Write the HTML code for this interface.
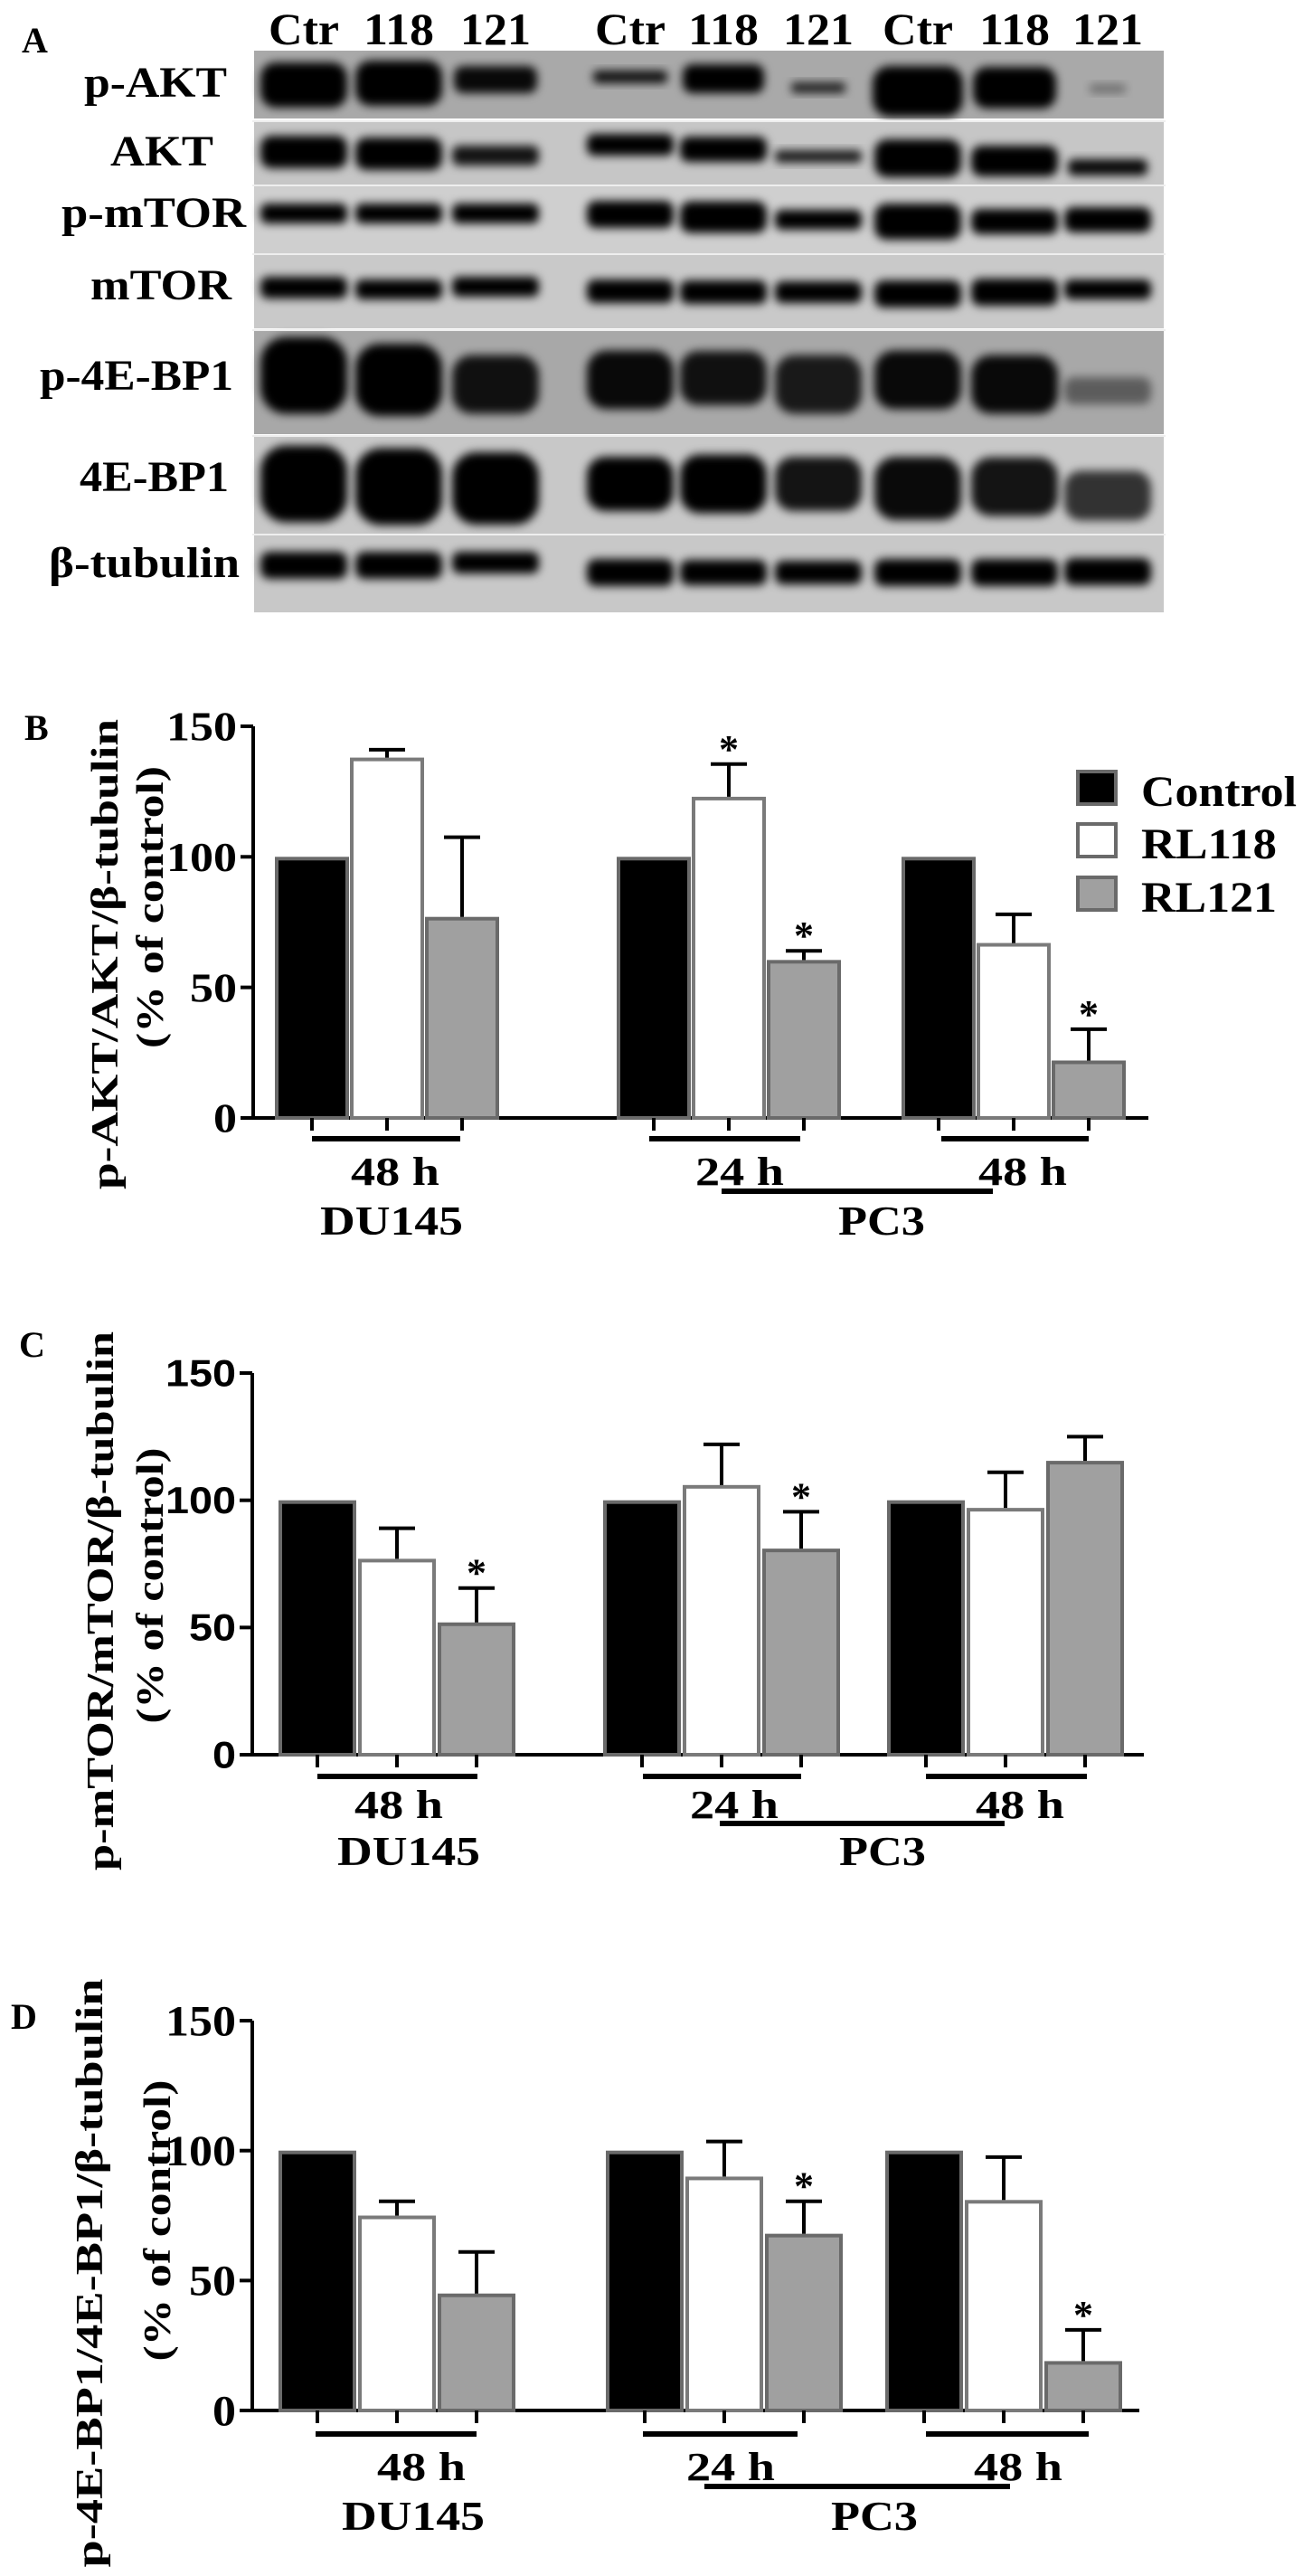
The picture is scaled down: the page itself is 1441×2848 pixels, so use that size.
<!DOCTYPE html>
<html><head><meta charset="utf-8"><style>
html,body{margin:0;padding:0;background:#fff;}
svg{display:block;}
text{font-family:"Liberation Serif",serif;font-weight:bold;fill:#000;}
.sans{font-family:"Liberation Sans",sans-serif;}
</style></head><body>
<svg id="fig" width="1441" height="2848" viewBox="0 0 1441 2848" xmlns="http://www.w3.org/2000/svg">
<defs><filter id="blur" x="-20%" y="-50%" width="140%" height="200%"><feGaussianBlur stdDeviation="5"/></filter></defs>
<g id="blot"></g>
<g id="chartB"></g>
<g id="chartC"></g>
<g id="chartD"></g>
</svg>
<script>
// ---------- chart data ----------
const groups = ["DU145 48 h","PC3 24 h","PC3 48 h"];
const series = ["Control","RL118","RL121"];
const yTicks = [0,50,100,150];
const bControl = [100,100,100];
const bRL118 = [138,123,67];
const bRL118Err = [3,12.5,11];
const bRL121 = [77,60.5,22];
const bRL121Err = [30.5,3.5,12];
const bStars118 = [false,true,false];
const bStars121 = [false,true,true];
const cControl = [100,100,100];
const cRL118 = [77,106,97];
const cRL118Err = [12,16,14];
const cRL121 = [52,81,115.5];
const cRL121Err = [13.5,14.5,9.5];
const cStars118 = [false,false,false];
const cStars121 = [true,true,false];
const dControl = [100,100,100];
const dRL118 = [75,90,81];
const dRL118Err = [5.5,13.5,16.5];
const dRL121 = [45,68,19];
const dRL121Err = [16,12.5,12];
const dStars118 = [false,false,false];
const dStars121 = [false,true,true];

const NS = "http://www.w3.org/2000/svg";
function mk(parent, tag, attrs, txt){
  const e = document.createElementNS(NS, tag);
  for (const k in attrs) e.setAttribute(k, attrs[k]);
  if (txt !== undefined) e.textContent = txt;
  parent.appendChild(e);
  return e;
}

// ---------- blot ----------
const blot = document.getElementById('blot');
const laneCenters = [336,441,548,697,800,905,1015,1122,1225];
const laneHeads = ["Ctr","118","121","Ctr","118","121","Ctr","118","121"];
const stripTop = [56,135,206,282,366,483,592];
const stripBot = [131,204,282,363,480,590,677];
const stripFill = ["#a9a9a9","#c6c6c6","#cfcfcf","#c9c9c9","#a8a8a8","#c8c8c8","#c8c8c8"];
const rowLabels = ["p-AKT","AKT","p-mTOR","mTOR","p-4E-BP1","4E-BP1","β-tubulin"];
const rowX = [93,122,68,100,44,88,54];
const rowW = [158,114,204,156,214,165,211];
const rowBase = [107,183,251,331,431,543,638];
const bandH = [
 [50,50,30,14,32,12,56,46,10],
 [36,36,22,24,28,14,42,34,18],
 [22,22,22,30,35,22,40,28,28],
 [24,22,22,26,26,24,30,30,22],
 [85,80,65,65,60,65,65,65,30],
 [85,85,80,60,65,60,70,65,55],
 [30,30,24,30,28,26,30,30,30]];
const bandY = [
 [94,92,88,85,87,97,101,97,98],
 [168,170,172,160,165,173,175,178,185],
 [236,236,236,237,240,243,245,245,243],
 [318,320,317,322,323,323,325,323,320],
 [415,420,425,420,418,425,420,425,432],
 [535,538,540,535,535,535,540,538,548],
 [625,625,622,633,633,633,633,633,632]];
const bandO = [
 [1,1,0.95,0.9,1,0.8,1,1,0.35],
 [1,1,0.9,1,1,0.85,1,1,0.95],
 [1,1,1,1,1,1,1,1,1],
 [1,1,1,1,1,1,1,1,1],
 [1,1,0.9,0.95,0.9,0.85,0.95,0.95,0.45],
 [1,1,1,1,1,0.9,0.95,0.9,0.75],
 [1,1,1,1,1,1,1,1,1]];
const bandW = [96,96,92,82,90,60,100,92,40];

mk(blot,'text',{x:24,y:58,'font-size':40,},'A');
for (let l=0;l<9;l++){
  const t = mk(blot,'text',{x:laneCenters[l],y:49,'font-size':50,'text-anchor':'middle',textLength:78,lengthAdjust:'spacingAndGlyphs'},laneHeads[l]);
  
  
}
for (let s=0;s<7;s++){
  const r = mk(blot,'rect',{x:281,y:stripTop[s],width:1006,height:stripBot[s]-stripTop[s],fill:stripFill[s]});
  
  
  const t = mk(blot,'text',{x:rowX[s],y:rowBase[s],'font-size':48,textLength:rowW[s],lengthAdjust:'spacingAndGlyphs'},rowLabels[s]);
  
  
  for (let l=0;l<9;l++){
    const w = (s===0)?bandW[l]:(l===8&&s<2?88:96);
    const h = bandH[s][l];
    const b = mk(blot,'rect',{x:laneCenters[l]-w/2,y:bandY[s][l]-h/2,width:w,height:h,rx:h/3,ry:h/3,fill:'#050505','fill-opacity':bandO[s][l],filter:'url(#blur)'});
    
    
  }
}
for (let s=1;s<7;s++){
  mk(blot,'rect',{x:279,y:stripTop[s]-2,width:1010,height:2,fill:'#eeeeee'});
}

// ---------- bar charts ----------
function drawChart(g, cfg){
  const yOf = v => cfg.y0 - v*cfg.ppu;
  const ya = mk(g,'line',{x1:cfg.ax,y1:yOf(150),x2:cfg.ax,y2:cfg.y0,stroke:'#000','stroke-width':4});
  
  
  const xa = mk(g,'line',{x1:cfg.ax-14,y1:cfg.y0,x2:cfg.xEnd,y2:cfg.y0,stroke:'#000','stroke-width':4});
  
  
  yTicks.forEach(t=>{
    mk(g,'line',{x1:cfg.ax-14,y1:yOf(t),x2:cfg.ax,y2:yOf(t),stroke:'#000','stroke-width':4});
    const s = String(t);
    const lab = mk(g,'text',{x:cfg.ax-18,y:yOf(t)+cfg.tickFont*0.34,'font-size':cfg.tickFont,'text-anchor':'end',class:cfg.tickSans?'sans':'',textLength:s.length*26,lengthAdjust:'spacingAndGlyphs'},s);
    
    
  });
  const pl = mk(g,'text',{x:cfg.letterX,y:cfg.letterY,'font-size':40},cfg.letter);
  
  
  const t1 = mk(g,'text',{x:0,y:0,'font-size':42,'text-anchor':'middle',textLength:cfg.t1len,lengthAdjust:'spacingAndGlyphs',transform:`translate(${cfg.t1x},${cfg.t1c}) rotate(-90)`},cfg.title1);
  
  
  const t2 = mk(g,'text',{x:0,y:0,'font-size':42,'text-anchor':'middle',textLength:cfg.t2len,lengthAdjust:'spacingAndGlyphs',transform:`translate(${cfg.t2x},${cfg.t2c}) rotate(-90)`},'(% of control)');
  
  
  const vals = [cfg.ctrl, cfg.r118, cfg.r121];
  const errs = [null, cfg.e118, cfg.e121];
  const stars = [null, cfg.s118, cfg.s121];
  const fills = ['#000','#fff','#a0a0a0'];
  const strokes = ['#6a6a6a','#7a7a7a','#6a6a6a'];
  for (let gi=0; gi<groups.length; gi++){
    for (let si=0; si<3; si++){
      const x = cfg.gx[gi] + si*cfg.stride;
      const v = vals[si][gi];
      const r = mk(g,'rect',{x:x+2,y:yOf(v)+2,width:cfg.bw-4,height:v*cfg.ppu-2,fill:fills[si],stroke:strokes[si],'stroke-width':4});
      
      
      const cx = x + cfg.bw/2;
      mk(g,'line',{x1:cx,y1:cfg.y0,x2:cx,y2:cfg.y0+14,stroke:'#000','stroke-width':4});
      if (errs[si]){
        const top = yOf(v + errs[si][gi]);
        const eb = mk(g,'path',{d:`M${cx},${yOf(v)} V${top} M${cx-20},${top} H${cx+20}`,stroke:'#000','stroke-width':4,fill:'none'});
        
        
        if (stars[si][gi]){
          const st = mk(g,'text',{x:cx,y:top-2,'font-size':44,'font-weight':'normal','text-anchor':'middle'},'*');
          
          
        }
      }
    }
    const ul = mk(g,'line',{x1:cfg.ul[gi][0],y1:cfg.ulY,x2:cfg.ul[gi][1],y2:cfg.ulY,stroke:'#000','stroke-width':6});
    
    
    const tl = mk(g,'text',{x:cfg.tc[gi],y:cfg.tY,'font-size':44,'text-anchor':'middle',textLength:98,lengthAdjust:'spacingAndGlyphs'},gi===1?'24 h':'48 h');
    
    
  }
  const pcl = mk(g,'line',{x1:cfg.pc3Line[0],y1:cfg.pc3Y,x2:cfg.pc3Line[1],y2:cfg.pc3Y,stroke:'#000','stroke-width':6});
  
  
  const du = mk(g,'text',{x:cfg.duC,y:cfg.cY,'font-size':46,'text-anchor':'middle',textLength:158,lengthAdjust:'spacingAndGlyphs'},'DU145');
  
  
  const pc = mk(g,'text',{x:cfg.pcC,y:cfg.cY,'font-size':46,'text-anchor':'middle',textLength:96,lengthAdjust:'spacingAndGlyphs'},'PC3');
  
  
}

drawChart(document.getElementById('chartB'),{
  ax:280,y0:1236,ppu:2.887,xEnd:1270,gx:[304,682,997],stride:83,bw:82,
  ctrl:bControl,r118:bRL118,e118:bRL118Err,r121:bRL121,e121:bRL121Err,s118:bStars118,s121:bStars121,
  tickFont:46,tickSans:false,letter:'B',letterX:27,letterY:818,
  title1:'p-AKT/AKT/β-tubulin',t1x:130,t1c:1055,t1len:520,t2x:180,t2c:1003,t2len:312,
  ul:[[345,509],[718,885],[1041,1204]],ulY:1259,tc:[437,818,1131],tY:1310,
  pc3Line:[798,1098],pc3Y:1317,duC:433,pcC:975,cY:1365});
drawChart(document.getElementById('chartC'),{
  ax:279,y0:1940,ppu:2.813,xEnd:1265,gx:[308,667,981],stride:88,bw:86,
  ctrl:cControl,r118:cRL118,e118:cRL118Err,r121:cRL121,e121:cRL121Err,s118:cStars118,s121:cStars121,
  tickFont:42,tickSans:true,letter:'C',letterX:21,letterY:1500,
  title1:'p-mTOR/mTOR/β-tubulin',t1x:125,t1c:1770,t1len:596,t2x:180,t2c:1753,t2len:305,
  ul:[[351,528],[711,886],[1024,1202]],ulY:1964,tc:[441,812,1128],tY:2010,
  pc3Line:[796,1111],pc3Y:2016,duC:452,pcC:976,cY:2062});
drawChart(document.getElementById('chartD'),{
  ax:279,y0:2665,ppu:2.873,xEnd:1260,gx:[308,670,979],stride:88,bw:86,
  ctrl:dControl,r118:dRL118,e118:dRL118Err,r121:dRL121,e121:dRL121Err,s118:dStars118,s121:dStars121,
  tickFont:48,tickSans:false,letter:'D',letterX:12,letterY:2243,
  title1:'p-4E-BP1/4E-BP1/β-tubulin',t1x:113,t1c:2513,t1len:651,t2x:188,t2c:2455,t2len:311,
  ul:[[349,527],[711,882],[1024,1204]],ulY:2691,tc:[466,808,1126],tY:2742,
  pc3Line:[779,1117],pc3Y:2749,duC:457,pcC:967,cY:2797});

// legend (chart B)
const gB = document.getElementById('chartB');
const legFill = ['#000','#fff','#a0a0a0'];
const legY = [851,909,968];
for (let i=0;i<3;i++){
  const r = mk(gB,'rect',{x:1192,y:legY[i]+2,width:42,height:36,fill:legFill[i],stroke:'#6a6a6a','stroke-width':4});
  
  
  const t = mk(gB,'text',{x:1262,y:legY[i]+40,'font-size':48,textLength:i===0?172:150,lengthAdjust:'spacingAndGlyphs'},series[i]);
  
  
}
</script>
</body></html>
